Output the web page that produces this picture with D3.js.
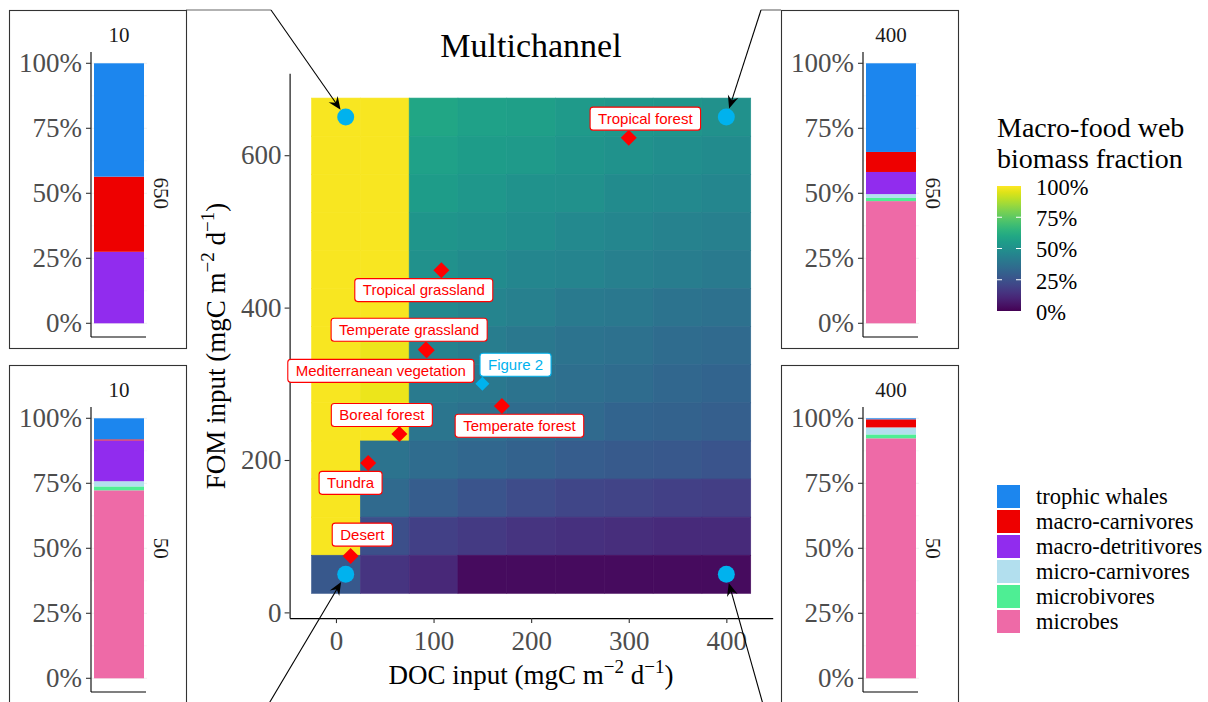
<!DOCTYPE html>
<html><head><meta charset="utf-8">
<script src="https://cdn.jsdelivr.net/npm/d3@7"></script>
<style>body{margin:0;background:#fff}</style>
</head><body>
<svg id="c" width="1208" height="702" xmlns="http://www.w3.org/2000/svg"></svg>
<script>
// ---------------- DATA ----------------
const docInputs = [0, 50, 100, 150, 200, 250, 300, 350, 400];
const fomInputs = [650, 600, 550, 500, 450, 400, 350, 300, 250, 200, 150, 100, 50];
// macro-food web biomass fraction, rows follow fomInputs, columns follow docInputs
const macroFraction = [
  [0.99, 0.99, 0.59, 0.57, 0.56, 0.54, 0.53, 0.52, 0.50],
  [0.99, 0.99, 0.57, 0.55, 0.54, 0.52, 0.51, 0.49, 0.48],
  [0.99, 0.99, 0.55, 0.53, 0.51, 0.50, 0.48, 0.47, 0.46],
  [0.99, 0.99, 0.52, 0.51, 0.49, 0.47, 0.46, 0.44, 0.43],
  [0.99, 0.99, 0.50, 0.48, 0.46, 0.45, 0.43, 0.42, 0.41],
  [0.99, 0.99, 0.47, 0.45, 0.43, 0.41, 0.40, 0.38, 0.37],
  [0.99, 0.97, 0.44, 0.42, 0.40, 0.38, 0.37, 0.35, 0.34],
  [0.99, 0.97, 0.41, 0.40, 0.38, 0.36, 0.35, 0.33, 0.32],
  [0.99, 0.99, 0.39, 0.37, 0.35, 0.34, 0.32, 0.31, 0.30],
  [0.99, 0.38, 0.35, 0.33, 0.31, 0.29, 0.28, 0.27, 0.26],
  [0.99, 0.34, 0.29, 0.26, 0.23, 0.21, 0.20, 0.19, 0.18],
  [0.99, 0.24, 0.19, 0.17, 0.15, 0.14, 0.13, 0.12, 0.12],
  [0.27, 0.15, 0.11, 0.03, 0.03, 0.03, 0.03, 0.03, 0.03]
];
const biomes   = ["Tropical forest", "Tropical grassland", "Temperate grassland", "Mediterranean vegetation",
                  "Boreal forest", "Temperate forest", "Tundra", "Desert"];
const biomeDOC = [300, 108, 93, 92, 65, 170, 33, 15];
const biomeFOM = [623, 449, 344, 345, 234, 271, 196, 74];
const figureLabel = ["Figure 2"];
const figureDOC = [150];
const figureFOM = [300];
const insetDOC = [10, 400, 10, 400];
const insetFOM = [650, 650, 50, 50];
const groups = ["trophic whales", "macro-carnivores", "macro-detritivores", "micro-carnivores", "microbivores", "microbes"];
// percent of biomass per group (order as in groups) for each inset
const insetFractions = [
  [43.6, 28.9, 27.5, 0.0, 0.0, 0.0],
  [34.1, 7.7, 8.5, 1.5, 1.2, 47.0],
  [8.1, 0.4, 15.7, 2.0, 1.5, 72.3],
  [0.4, 3.1, 0.0, 2.7, 1.5, 92.3]
];
const xTicks = [0, 100, 200, 300, 400];
const yTicks = [0, 200, 400, 600];
const pctTicks = [0, 25, 50, 75, 100];
const fillTicks = [0, 0.25, 0.5, 0.75, 1];

// ---------------- LAYOUT / STYLE ----------------
const groupColors = ["#1C86EE", "#EE0000", "#912CEE", "#B2DFEE", "#4EEE94", "#EE6AA7"];
const pointBlue = "#00B2EE";
const SERIF = "'Liberation Serif','Times New Roman',serif";
const SANS = "'Liberation Sans',Arial,sans-serif";
// label centres (data units), ggrepel-like placement
const biomeLabelDOC = [317, 90, 75, 46, 47, 188, 15, 27];
const biomeLabelFOM = [648, 423, 371, 317, 259, 245, 170, 102];
const figureLabelDOC = [184];
const figureLabelFOM = [325];
const insetBoxes = [[9, 10], [781, 10], [9, 365], [781, 365]];
const arrowStarts = [[271, 10], [761, 10], [258, 722], [768, 722]];
const elbowStarts = [[186, 10], [781, 10], null, null];

const svg = d3.select("#c");
const x = d3.scaleLinear().domain([-47.5, 447.5]).range([289.6, 772.7]);
const y = d3.scaleLinear().domain([-7.5, 707.5]).range([618.1, 73.3]);
const color = v => d3.interpolateViridis(v);

// heatmap
const cells = [];
fomInputs.forEach((f, i) => docInputs.forEach((d, j) => cells.push({d, f, v: macroFraction[i][j]})));
svg.append("g").selectAll("rect").data(cells).join("rect")
  .attr("x", c => x(c.d - 25)).attr("width", c => x(c.d + 25) - x(c.d - 25))
  .attr("y", c => y(c.f + 25)).attr("height", c => y(c.f - 25) - y(c.f + 25))
  .attr("fill", c => color(c.v)).attr("stroke", c => color(c.v)).attr("stroke-width", 0.6);

// axes
const xAxis = svg.append("g").attr("transform", `translate(0,${y.range()[0]})`)
  .call(d3.axisBottom(x).tickValues(xTicks).tickSize(5).tickPadding(8).tickSizeOuter(0));
const yAxis = svg.append("g").attr("transform", `translate(${x.range()[0]},0)`)
  .call(d3.axisLeft(y).tickValues(yTicks).tickSize(5).tickPadding(3).tickSizeOuter(0));
[xAxis, yAxis].forEach(a => {
  a.select(".domain").attr("stroke", "#000").attr("stroke-width", 1.1);
  a.selectAll(".tick line").attr("stroke", "#333").attr("stroke-width", 1.1);
  a.selectAll(".tick text").attr("fill", "#4d4d4d").style("font-family", SERIF).style("font-size", "27px");
});

// titles
svg.append("text").attr("x", 531).attr("y", 57).attr("text-anchor", "middle")
  .style("font-family", SERIF).style("font-size", "34px").text("Multichannel");
function unitTitle(sel, prefix) {
  sel.append("tspan").text(prefix + " (mgC m");
  sel.append("tspan").attr("dy", -11).style("font-size", "19px").text("\u22122");
  sel.append("tspan").attr("dy", 11).text(" d");
  sel.append("tspan").attr("dy", -11).style("font-size", "19px").text("\u22121");
  sel.append("tspan").attr("dy", 11).text(")");
}
const xt = svg.append("text").attr("x", 531).attr("y", 684).attr("text-anchor", "middle")
  .style("font-family", SERIF).style("font-size", "27px");
unitTitle(xt, "DOC input");
const yt = svg.append("text").attr("transform", "translate(225,346) rotate(-90)").attr("text-anchor", "middle")
  .style("font-family", SERIF).style("font-size", "27px");
unitTitle(yt, "FOM input");

// arrows / connectors
function arrowTo(from, cx, cy, r) {
  const dx = cx - from[0], dy = cy - from[1], L = Math.hypot(dx, dy);
  const ux = dx / L, uy = dy / L;
  const tx = cx - ux * r, ty = cy - uy * r;
  svg.append("line").attr("x1", from[0]).attr("y1", from[1]).attr("x2", tx - ux * 6).attr("y2", ty - uy * 6)
    .attr("stroke", "#000").attr("stroke-width", 1.1);
  const ang = Math.atan2(uy, ux) * 180 / Math.PI;
  svg.append("path").attr("d", "M0,0 L-13,-5.5 L-8.5,0 L-13,5.5 Z")
    .attr("transform", `translate(${tx},${ty}) rotate(${ang})`).attr("fill", "#000");
}
insetDOC.forEach((d, i) => {
  if (elbowStarts[i]) {
    svg.append("line").attr("x1", elbowStarts[i][0]).attr("y1", elbowStarts[i][1])
      .attr("x2", arrowStarts[i][0]).attr("y2", arrowStarts[i][1]).attr("stroke", "#666").attr("stroke-width", 1.1);
  }
  arrowTo(arrowStarts[i], x(d), y(insetFOM[i]), 9);
});

// sampled points
svg.append("g").selectAll("circle").data(insetDOC).join("circle")
  .attr("cx", d => x(d)).attr("cy", (d, i) => y(insetFOM[i])).attr("r", 8.5).attr("fill", pointBlue);

const diamond = "M0,-8 L8,0 L0,8 L-8,0 Z";
svg.append("g").selectAll("path").data(biomes).join("path")
  .attr("d", diamond).attr("fill", "#FF0000")
  .attr("transform", (b, i) => `translate(${x(biomeDOC[i])},${y(biomeFOM[i])})`);
svg.append("g").selectAll("path").data(figureLabel).join("path")
  .attr("d", "M0,-7 L7,0 L0,7 L-7,0 Z").attr("fill", pointBlue)
  .attr("transform", (b, i) => `translate(${x(figureDOC[i])},${y(figureFOM[i])})`);

function label(txt, cx, cy, col) {
  const g = svg.append("g");
  const t = g.append("text").attr("x", cx).attr("y", cy).attr("text-anchor", "middle").attr("dy", "0.35em")
    .style("font-family", SANS).style("font-size", "15px").attr("fill", col).text(txt);
  const w = t.node().getComputedTextLength() + 16;
  g.insert("rect", "text").attr("x", cx - w / 2).attr("y", cy - 11.5).attr("width", w).attr("height", 23)
    .attr("rx", 3).attr("fill", "#fff").attr("stroke", col).attr("stroke-width", 1.1);
}
biomes.forEach((b, i) => label(b, x(biomeLabelDOC[i]), y(biomeLabelFOM[i]), "#FF0000"));
figureLabel.forEach((b, i) => label(b, x(figureLabelDOC[i]), y(figureLabelFOM[i]), pointBlue));

// insets
insetBoxes.forEach((bx, k) => {
  const [X, Y] = bx;
  const g = svg.append("g");
  g.append("rect").attr("x", X + 0.5).attr("y", Y + 0.5).attr("width", 177).attr("height", 338)
    .attr("fill", "#fff").attr("stroke", "#333").attr("stroke-width", 1.1);
  const py = d3.scaleLinear().domain([0, 100]).range([Y + 313.3, Y + 53.3]);
  const ax = X + 82;
  // grid
  d3.range(0, 101, 12.5).forEach(p => {
    g.append("line").attr("x1", ax).attr("x2", X + 138).attr("y1", py(p)).attr("y2", py(p))
      .attr("stroke", "#f0f0f0").attr("stroke-width", p % 25 === 0 ? 1 : 0.5);
  });
  // stacked bar (bottom = last group)
  let acc = 0;
  const stack = [];
  for (let j = groups.length - 1; j >= 0; j--) {
    stack.push({g: groups[j], c: groupColors[j], y0: acc, y1: acc + insetFractions[k][j]});
    acc += insetFractions[k][j];
  }
  g.selectAll(".seg").data(stack.filter(s => s.y1 > s.y0)).join("rect")
    .attr("x", X + 85).attr("width", 50)
    .attr("y", s => py(s.y1)).attr("height", s => py(s.y0) - py(s.y1)).attr("fill", s => s.c);
  // axes
  g.append("line").attr("x1", ax).attr("x2", ax).attr("y1", Y + 42).attr("y2", Y + 327).attr("stroke", "#000").attr("stroke-width", 1.1);
  g.append("line").attr("x1", ax).attr("x2", X + 137).attr("y1", Y + 327).attr("y2", Y + 327).attr("stroke", "#000").attr("stroke-width", 1.1);
  pctTicks.forEach(p => {
    g.append("line").attr("x1", ax - 5).attr("x2", ax).attr("y1", py(p)).attr("y2", py(p)).attr("stroke", "#333").attr("stroke-width", 1.1);
    g.append("text").attr("x", ax - 9).attr("y", py(p)).attr("dy", "0.34em").attr("text-anchor", "end")
      .attr("fill", "#4d4d4d").style("font-family", SERIF).style("font-size", "27px").text(p + "%");
  });
  g.append("text").attr("x", X + 110).attr("y", Y + 31.5).attr("text-anchor", "middle")
    .attr("fill", "#1a1a1a").style("font-family", SERIF).style("font-size", "21px").text(insetDOC[k]);
  g.append("text").attr("transform", `translate(${X + 152},${(py(0) + py(100)) / 2}) rotate(90)`)
    .attr("text-anchor", "middle").attr("dy", "0.35em")
    .attr("fill", "#1a1a1a").style("font-family", SERIF).style("font-size", "21px").text(insetFOM[k]);
});

// colour bar legend
const lg = svg.append("g");
lg.append("text").attr("x", 997).attr("y", 137).style("font-family", SERIF).style("font-size", "28px").text("Macro-food web");
lg.append("text").attr("x", 997).attr("y", 168).style("font-family", SERIF).style("font-size", "28px").text("biomass fraction");
const defs = svg.append("defs");
const grad = defs.append("linearGradient").attr("id", "vir").attr("x1", 0).attr("y1", 1).attr("x2", 0).attr("y2", 0);
d3.range(0, 1.0001, 0.05).forEach(t => grad.append("stop").attr("offset", t).attr("stop-color", color(t)));
const cb = d3.scaleLinear().domain([0, 1]).range([311, 186]);
lg.append("rect").attr("x", 997).attr("y", 186).attr("width", 24).attr("height", 125).attr("fill", "url(#vir)");
fillTicks.forEach(t => {
  if (t > 0 && t < 1) {
    lg.append("line").attr("x1", 997).attr("x2", 1002).attr("y1", cb(t)).attr("y2", cb(t)).attr("stroke", "#fff").attr("stroke-width", 1);
    lg.append("line").attr("x1", 1016).attr("x2", 1021).attr("y1", cb(t)).attr("y2", cb(t)).attr("stroke", "#fff").attr("stroke-width", 1);
  }
  lg.append("text").attr("x", 1036).attr("y", cb(t) + 1).attr("dy", "0.35em")
    .style("font-family", SERIF).style("font-size", "22.5px").text(d3.format(".0%")(t));
});

// group legend
groups.forEach((gname, i) => {
  const yy = 485 + i * 25;
  lg.append("rect").attr("x", 997).attr("y", yy).attr("width", 23).attr("height", 23).attr("fill", groupColors[i]);
  lg.append("text").attr("x", 1036).attr("y", yy + 11.5).attr("dy", "0.35em")
    .style("font-family", SERIF).style("font-size", "22.5px").text(gname);
});
</script>
</body></html>
